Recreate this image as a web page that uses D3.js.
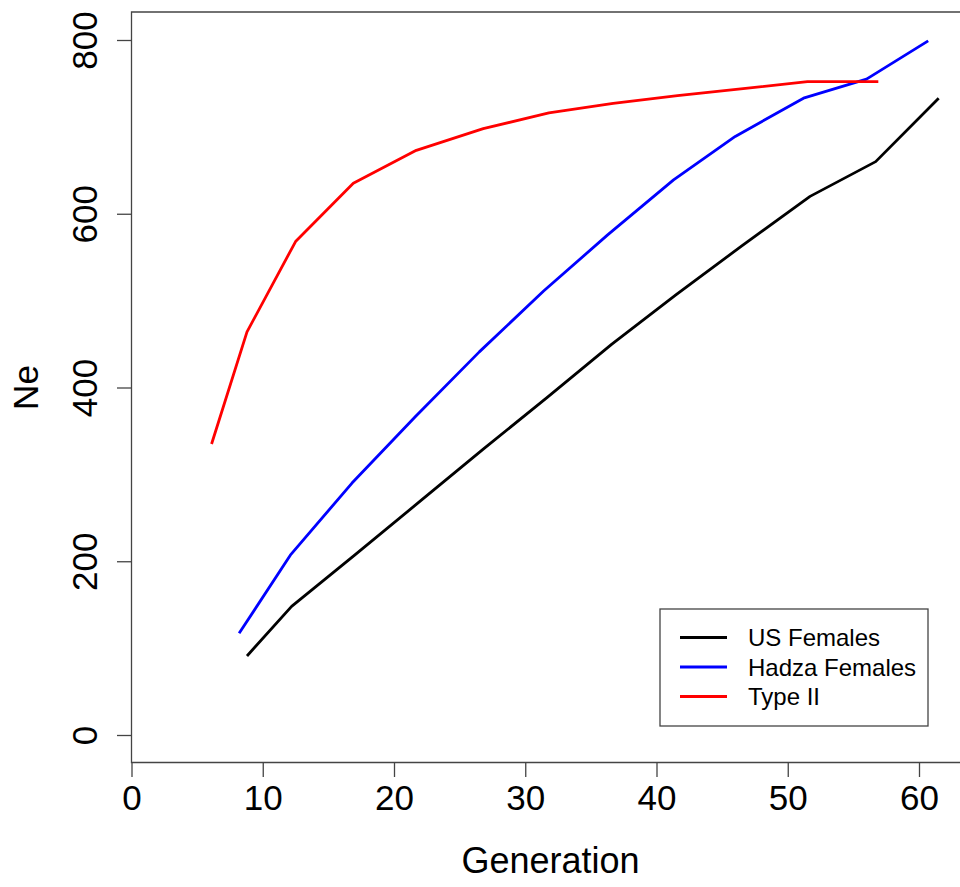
<!DOCTYPE html>
<html>
<head>
<meta charset="utf-8">
<script src="https://cdn.jsdelivr.net/npm/d3@7"></script>
<style>
  body { margin: 0; background: #fff; }
  svg { display: block; font-family: "Liberation Sans", Arial, sans-serif; }
</style>
</head>
<body>
<svg id="canvas" width="960" height="887"></svg>
<script>
// series: generation vs Ne
const usGen = [8.8, 12.2, 17.0, 21.9, 26.8, 31.7, 36.6, 41.5, 46.5, 51.7, 56.7, 61.5];
const usNe = [91, 148, 207, 268, 329, 389, 450, 507, 563, 620, 660, 733];

const hadzaGen = [8.2, 12.1, 16.8, 21.6, 26.5, 31.4, 36.3, 41.3, 46.0, 51.2, 56.0, 60.7];
const hadzaNe = [117, 207, 290, 366, 441, 511, 576, 639, 689, 733, 755, 799];

const type2Gen = [6.1, 8.8, 12.5, 16.9, 21.7, 26.8, 31.8, 36.7, 41.6, 46.6, 51.5, 56.9];
const type2Ne = [335, 464, 568, 635, 673, 698, 716, 727, 736, 744, 752, 752];

const seriesNames = ["US Females", "Hadza Females", "Type II"];
const seriesColors = ["#000000", "#0000ff", "#ff0000"];

const xTicks = [0, 10, 20, 30, 40, 50, 60];
const yTicks = [0, 200, 400, 600, 800];

const canvas = d3.select("#canvas");

const x = d3.scaleLinear().domain([0, 60]).range([131.5, 919]);
const y = d3.scaleLinear().domain([0, 800]).range([735, 40]);

const boxTop = 12;
const boxBottom = 762.5;
const axisColor = "#444";

// plot box (right side runs off the picture)
canvas
  .append("path")
  .attr("d", `M965,${boxTop}H${x(0)}V${boxBottom}H965`)
  .attr("fill", "none")
  .attr("stroke", axisColor)
  .attr("stroke-width", 1.3);

// x axis
const xAxis = canvas
  .append("g")
  .attr("transform", `translate(0, ${boxBottom})`)
  .call(d3.axisBottom(x).tickValues(xTicks).tickSize(14.5).tickPadding(8).tickFormat(d3.format("d")));
xAxis.select(".domain").remove();
xAxis.selectAll("line").attr("stroke", axisColor).attr("stroke-width", 1.3);
xAxis
  .selectAll("text")
  .attr("fill", "#000")
  .style("font-size", "35px")
  .style("font-family", "Liberation Sans, Arial, sans-serif");

// y axis, labels rotated like R's default
const yAxis = canvas
  .append("g")
  .attr("transform", `translate(${x(0)}, 0)`)
  .call(d3.axisLeft(y).tickValues(yTicks).tickSize(14.5).tickFormat(d3.format("d")));
yAxis.select(".domain").remove();
yAxis.selectAll("line").attr("stroke", axisColor).attr("stroke-width", 1.3);
yAxis
  .selectAll("text")
  .attr("fill", "#000")
  .attr("x", null)
  .attr("dy", null)
  .attr("transform", "translate(-35, 0) rotate(-90)")
  .attr("text-anchor", "middle")
  .style("font-size", "35px")
  .style("font-family", "Liberation Sans, Arial, sans-serif");

// axis titles
canvas
  .append("text")
  .attr("x", 550.5)
  .attr("y", 873)
  .attr("text-anchor", "middle")
  .style("font-size", "36px")
  .text("Generation");

canvas
  .append("text")
  .attr("transform", `translate(38, ${y(400)}) rotate(-90)`)
  .attr("text-anchor", "middle")
  .style("font-size", "35px")
  .text("Ne");

// lines
const series = [
  { gen: usGen, ne: usNe },
  { gen: hadzaGen, ne: hadzaNe },
  { gen: type2Gen, ne: type2Ne },
];

const line = d3
  .line()
  .x((d) => x(d[0]))
  .y((d) => y(d[1]));

series.forEach((s, i) => {
  const pts = s.gen.map((g, j) => [g, s.ne[j]]);
  canvas
    .append("path")
    .datum(pts)
    .attr("d", line)
    .attr("fill", "none")
    .attr("stroke", seriesColors[i])
    .attr("stroke-width", 2.8)
    .attr("stroke-linejoin", "round");
});

// legend
const legend = canvas.append("g");
legend
  .append("rect")
  .attr("x", 660)
  .attr("y", 609)
  .attr("width", 268)
  .attr("height", 117)
  .attr("fill", "#fff")
  .attr("stroke", axisColor)
  .attr("stroke-width", 1.3);

seriesNames.forEach((name, i) => {
  const ly = 637.5 + i * 29.5;
  legend
    .append("line")
    .attr("x1", 680)
    .attr("x2", 727)
    .attr("y1", ly)
    .attr("y2", ly)
    .attr("stroke", seriesColors[i])
    .attr("stroke-width", 2.8);
  legend
    .append("text")
    .attr("x", 748)
    .attr("y", ly + 8.5)
    .style("font-size", "24px")
    .text(name);
});
</script>
</body>
</html>
